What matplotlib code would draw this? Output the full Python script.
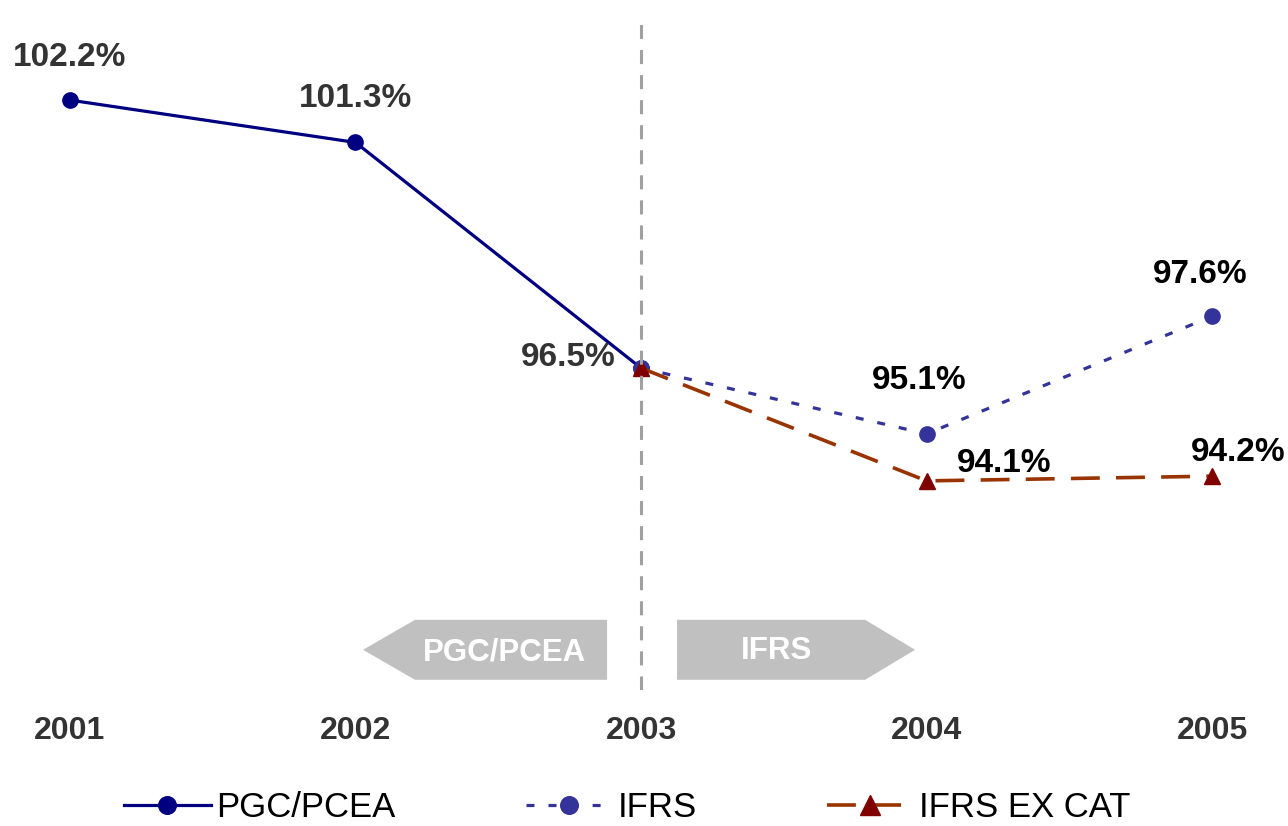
import matplotlib
matplotlib.use("Agg")
import matplotlib.pyplot as plt
from matplotlib.patches import Polygon

# data
years = [2001, 2002, 2003, 2004, 2005]
pgc_years = [2001, 2002, 2003]
pgc_vals = [102.2, 101.3, 96.5]
ifrs_years = [2003, 2004, 2005]
ifrs_vals = [96.5, 95.1, 97.6]
excat_years = [2003, 2004, 2005]
excat_vals = [96.5, 94.1, 94.2]

plt.rcParams['font.family'] = ['Liberation Sans', 'DejaVu Sans']

fig = plt.figure(figsize=(12.88, 8.26), dpi=100)
ax = fig.add_axes([0, 0.1646, 1, 0.8354])
ax.set_xlim(2000.755, 2005.266)
ax.set_ylim(89.65, 104.33)

l1, = ax.plot(pgc_years, pgc_vals, color='#000080', lw=2.3, marker='o', ms=11,
              label='PGC/PCEA', zorder=2)
l2, = ax.plot(ifrs_years, ifrs_vals, color='#333399', lw=2.3, ls=(0, (2.5, 4.4)),
              marker='o', ms=11, label='IFRS', zorder=3)
l3, = ax.plot(excat_years, excat_vals, color='#993300', lw=2.6, ls=(0, (8, 4.5)),
              marker='^', ms=12, mfc='#800000', mec='#800000', label='IFRS EX CAT', zorder=4)

ax.axvline(2003, ymax=(104.0 - 89.65) / (104.33 - 89.65), color='#a0a0a0', lw=2.2,
           ls=(0, (4.6, 3.6)), zorder=5)

# value labels (offsets in pixels)
lab = dict(fontsize=24, fontweight='bold', textcoords='offset pixels', va='center')
ax.annotate('102.2%', (2001, 102.2), xytext=(0, 43), ha='center', color='#333333', **lab)
ax.annotate('101.3%', (2002, 101.3), xytext=(0, 44), ha='center', color='#333333', **lab)
ax.annotate('96.5%', (2003, 96.5), xytext=(-25, 11), ha='right', color='#333333', **lab)
ax.annotate('95.1%', (2004, 95.1), xytext=(-7, 53), ha='center', color='black', **lab)
ax.annotate('97.6%', (2005, 97.6), xytext=(-12, 42), ha='center', color='black', **lab)
ax.annotate('94.1%', (2004, 94.1), xytext=(78, 17), ha='center', color='black', **lab)
ax.annotate('94.2%', (2005, 94.2), xytext=(26, 24), ha='center', color='black', **lab)

# period arrows
def px2x(p):
    return 2000.755 + p / 285.5

def px2y(p):
    return 104.33 - p / 47.02

left_arrow = [(px2x(363), px2y(650)), (px2x(415), px2y(620)), (px2x(607), px2y(620)),
              (px2x(607), px2y(680)), (px2x(415), px2y(680))]
right_arrow = [(px2x(677), px2y(620)), (px2x(865), px2y(620)), (px2x(915), px2y(650)),
               (px2x(865), px2y(680)), (px2x(677), px2y(680))]
for pts in (left_arrow, right_arrow):
    ax.add_patch(Polygon(pts, closed=True, fc='#c0c0c0', ec='none', zorder=0))
ax.text(px2x(504), px2y(653), 'PGC/PCEA', color='white', fontsize=22.5, fontweight='bold',
        ha='center', va='center')
ax.text(px2x(776), px2y(651), 'IFRS', color='white', fontsize=22.5, fontweight='bold',
        ha='center', va='center')

ax.set_xticks(years)
ax.set_xticklabels([str(y) for y in years], fontsize=23, fontweight='bold', color='#333333')
ax.tick_params(axis='x', length=0, pad=19)
ax.set_yticks([])
for s in ax.spines.values():
    s.set_visible(False)

fig.legend(handles=[l1, l2, l3], loc='center', bbox_to_anchor=(0.487, 0.022), ncol=3,
           frameon=False, prop={'size': 25}, markerscale=1.15,
           handlelength=2.5, handletextpad=0.15, columnspacing=3.75)

fig.savefig('out.png', dpi=100)
